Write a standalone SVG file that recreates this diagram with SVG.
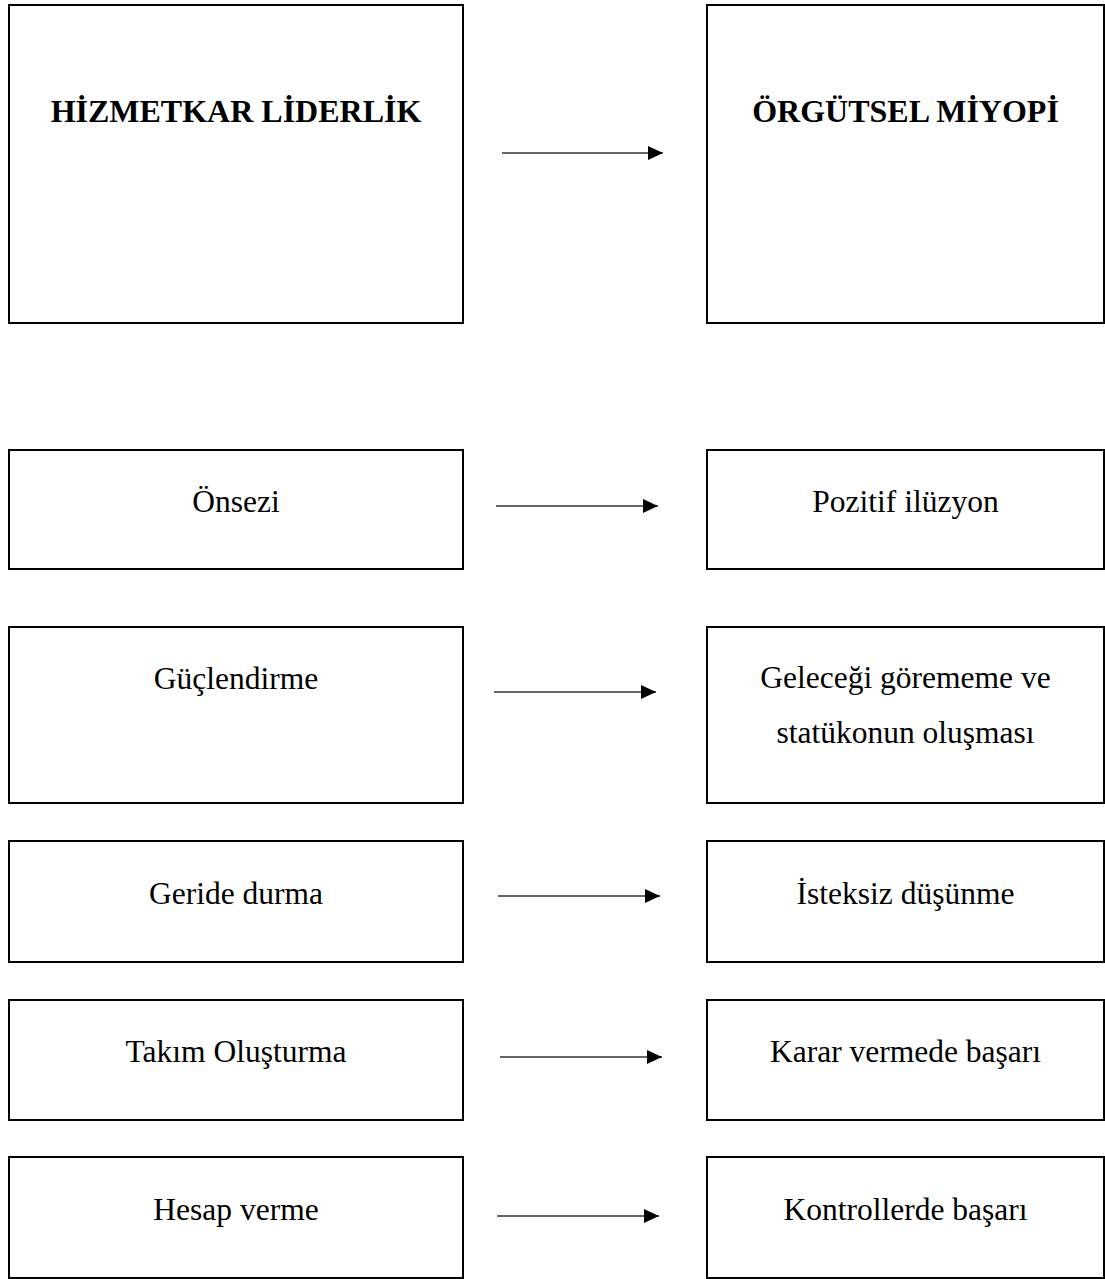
<svg xmlns="http://www.w3.org/2000/svg" width="1105" height="1279" viewBox="0 0 1105 1279">
  <style>
    .box { fill: #ffffff; stroke: #000000; stroke-width: 2; }
    .title { font-family: "Liberation Serif", "Times New Roman", serif; font-size: 32px; font-weight: bold; text-anchor: middle; fill: #000000; }
    .label { font-family: "Liberation Serif", "Times New Roman", serif; font-size: 31.5px; text-anchor: middle; fill: #000000; }
    .link { stroke: #333333; stroke-width: 1.4; fill: none; marker-end: url(#head); }
  </style>
  <defs>
    <marker id="head" markerUnits="userSpaceOnUse" markerWidth="16" markerHeight="15" refX="15" refY="7" orient="auto">
      <path d="M0,0 L15,7 L0,14 Z" fill="#000000"/>
    </marker>
  </defs>
  <rect width="1105" height="1279" fill="#ffffff"/>

  <!-- left column -->
  <g id="hizmetkar-liderlik">
    <rect class="box" x="9" y="5" width="454" height="318"/>
    <text class="title" x="236" y="122">HİZMETKAR LİDERLİK</text>
  </g>
  <g id="onsezi">
    <rect class="box" x="9" y="450" width="454" height="119"/>
    <text class="label" x="236" y="512">Önsezi</text>
  </g>
  <g id="guclendirme">
    <rect class="box" x="9" y="627" width="454" height="176"/>
    <text class="label" x="236" y="689">Güçlendirme</text>
  </g>
  <g id="geride-durma">
    <rect class="box" x="9" y="841" width="454" height="121"/>
    <text class="label" x="236" y="904">Geride durma</text>
  </g>
  <g id="takim-olusturma">
    <rect class="box" x="9" y="1000" width="454" height="120"/>
    <text class="label" x="236" y="1062">Takım Oluşturma</text>
  </g>
  <g id="hesap-verme">
    <rect class="box" x="9" y="1157" width="454" height="121"/>
    <text class="label" x="236" y="1220">Hesap verme</text>
  </g>

  <!-- right column -->
  <g id="orgutsel-miyopi">
    <rect class="box" x="707" y="5" width="397" height="318"/>
    <text class="title" x="905.5" y="122">ÖRGÜTSEL MİYOPİ</text>
  </g>
  <g id="pozitif-iluzyon">
    <rect class="box" x="707" y="450" width="397" height="119"/>
    <text class="label" x="905.5" y="512">Pozitif ilüzyon</text>
  </g>
  <g id="gelecegi-gorememe">
    <rect class="box" x="707" y="627" width="397" height="176"/>
    <text class="label" x="905.5" y="688">Geleceği görememe ve</text>
    <text class="label" x="905.5" y="743">statükonun oluşması</text>
  </g>
  <g id="isteksiz-dusunme">
    <rect class="box" x="707" y="841" width="397" height="121"/>
    <text class="label" x="905.5" y="904">İsteksiz düşünme</text>
  </g>
  <g id="karar-vermede-basari">
    <rect class="box" x="707" y="1000" width="397" height="120"/>
    <text class="label" x="905.5" y="1062">Karar vermede başarı</text>
  </g>
  <g id="kontrollerde-basari">
    <rect class="box" x="707" y="1157" width="397" height="121"/>
    <text class="label" x="905.5" y="1220">Kontrollerde başarı</text>
  </g>

  <!-- connectors -->
  <g id="connectors">
    <line class="link" x1="502" y1="153" x2="663" y2="153"/>
    <line class="link" x1="496" y1="506" x2="658" y2="506"/>
    <line class="link" x1="494" y1="692" x2="656" y2="692"/>
    <line class="link" x1="498" y1="896" x2="660" y2="896"/>
    <line class="link" x1="500" y1="1057" x2="662" y2="1057"/>
    <line class="link" x1="497" y1="1216" x2="659" y2="1216"/>
  </g>
</svg>
